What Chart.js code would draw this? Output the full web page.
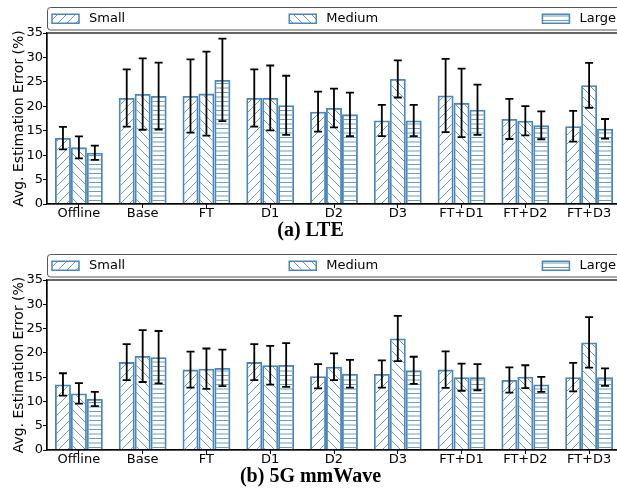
<!DOCTYPE html>
<html><head><meta charset="utf-8">
<script src="https://cdn.jsdelivr.net/npm/chart.js@4.4.0/dist/chart.umd.min.js"></script>
<style>
html,body{margin:0;padding:0;overflow:hidden;background:#fff;width:617px;height:493px;}
.wrap{position:absolute;left:0;width:640px;}
canvas{display:block;}
</style></head><body>
<div class="wrap" style="top:0;height:247px"><canvas id="c1" width="640" height="247"></canvas></div>
<div class="wrap" style="top:247px;height:246px"><canvas id="c2" width="640" height="246"></canvas></div>
<script>
const categories = ['Offline','Base','FT','D1','D2','D3','FT+D1','FT+D2','FT+D3'];
const seriesNames = ['Small','Medium','Large'];
const yMax = 35, yStep = 5;
const yTitle = 'Avg. Estimation Error (%)';
const titleLTE = '(a) LTE';
const title5G = '(b) 5G mmWave';

const lteSmall     = [13.5, 21.7, 22.1, 21.7, 18.9, 17.1, 22.2, 17.4, 15.9];
const lteSmallErr  = [2.3, 5.85, 7.5, 5.85, 4.1, 3.2, 7.5, 4.1, 3.15];
const lteMedium    = [11.6, 22.5, 22.6, 21.7, 19.65, 25.6, 20.7, 17.05, 24.3];
const lteMediumErr = [2.25, 7.3, 8.6, 6.65, 3.95, 3.8, 7.0, 3.0, 4.6];
const lteLarge     = [10.5, 22.1, 25.4, 20.2, 18.35, 17.1, 19.3, 16.1, 15.4];
const lteLargeErr  = [1.45, 6.85, 8.45, 6.05, 4.45, 3.2, 5.15, 2.85, 2.0];

const mmwSmall     = [13.5, 18.1, 16.55, 18.1, 15.2, 15.65, 16.55, 14.4, 15.0];
const mmwSmallErr  = [2.3, 3.7, 3.7, 3.7, 2.5, 2.8, 3.75, 2.6, 2.95];
const mmwMedium    = [11.65, 19.35, 16.75, 17.45, 17.15, 22.95, 15.0, 15.1, 22.15];
const mmwMediumErr = [2.1, 5.35, 4.15, 4.0, 2.75, 4.65, 2.8, 2.35, 5.2];
const mmwLarge     = [10.5, 19.1, 16.9, 17.5, 15.7, 16.4, 15.0, 13.5, 15.0];
const mmwLargeErr  = [1.45, 5.4, 3.75, 4.5, 2.85, 2.8, 2.7, 1.55, 1.8];

const EDGE = '#4a86b8';
const HATCH = 'rgba(70,130,180,0.8)';
const hatchKinds = ['ne','nw','h'];

function makePattern(kind){
  const c = document.createElement('canvas');
  c.width = 9; c.height = 9;
  const g = c.getContext('2d');
  g.strokeStyle = HATCH; g.lineWidth = 1;
  g.beginPath();
  if (kind === 'ne') {
    g.moveTo(-1,10); g.lineTo(10,-1);
    g.moveTo(-1,1); g.lineTo(1,-1);
    g.moveTo(8,10); g.lineTo(10,8);
  } else if (kind === 'nw') {
    g.moveTo(-1,-1); g.lineTo(10,10);
    g.moveTo(8,-1); g.lineTo(10,1);
    g.moveTo(-1,8); g.lineTo(1,10);
  } else {
    g.moveTo(0,2.5); g.lineTo(9,2.5);
    g.moveTo(0,7); g.lineTo(9,7);
  }
  g.stroke();
  return g.createPattern(c,'repeat');
}

Chart.defaults.font.family = 'DejaVu Sans';
Chart.defaults.color = '#000';

const errorBars = {
  id: 'errorBars',
  afterDatasetsDraw(chart){
    const ctx = chart.ctx, ys = chart.scales.y;
    ctx.save();
    ctx.strokeStyle = '#000'; ctx.lineWidth = 1.8;
    chart.data.datasets.forEach((ds, di) => {
      const meta = chart.getDatasetMeta(di);
      meta.data.forEach((bar, i) => {
        const v = ds.data[i], e = ds.errors[i];
        const x = bar.x, y1 = ys.getPixelForValue(v + e), y2 = ys.getPixelForValue(v - e);
        ctx.beginPath();
        ctx.moveTo(x, y1); ctx.lineTo(x, y2);
        ctx.moveTo(x - 4, y1); ctx.lineTo(x + 4, y1);
        ctx.moveTo(x - 4, y2); ctx.lineTo(x + 4, y2);
        ctx.stroke();
      });
    });
    ctx.restore();
  }
};

const frameAndLegend = {
  id: 'frameAndLegend',
  afterDraw(chart){
    const ctx = chart.ctx, a = chart.chartArea;
    ctx.save();
    ctx.strokeStyle = '#000'; ctx.lineWidth = 1.2;
    ctx.strokeRect(a.left, a.top, a.right - a.left, a.bottom - a.top);
    const bx = a.left, by = 7, bw = a.right - a.left, bh = 22.5;
    ctx.strokeStyle = '#555'; ctx.lineWidth = 1;
    ctx.beginPath();
    ctx.roundRect(bx + 0.5, by + 0.5, bw - 1, bh, 3);
    ctx.fillStyle = '#fff'; ctx.fill(); ctx.stroke();
    ctx.font = '13px "DejaVu Sans"';
    ctx.textBaseline = 'middle';
    const sw = 27, sh = 9, gap = 10, pad = 5;
    const items = chart.data.datasets.map(ds => ({ds, w: sw + gap + ctx.measureText(ds.label).width}));
    const total = items.reduce((s, it) => s + it.w, 0);
    const space = (bw - 2 * pad - total) / (items.length - 1);
    let x = bx + pad;
    const cy = by + bh / 2 + 0.5;
    items.forEach(it => {
      ctx.fillStyle = '#fff';
      ctx.fillRect(x, cy - sh / 2, sw, sh);
      ctx.fillStyle = it.ds.backgroundColor;
      ctx.fillRect(x, cy - sh / 2, sw, sh);
      ctx.strokeStyle = EDGE; ctx.lineWidth = 1.5;
      ctx.strokeRect(x, cy - sh / 2, sw, sh);
      ctx.fillStyle = '#000';
      ctx.fillText(it.ds.label, x + sw + gap, cy);
      x += it.w + space;
    });
    ctx.restore();
  }
};

function buildChart(id, title, vals, errs){
  const datasets = seriesNames.map((name, i) => ({
    label: name,
    data: vals[i],
    errors: errs[i],
    backgroundColor: makePattern(hatchKinds[i]),
    borderColor: EDGE,
    borderWidth: 1.8,
    categoryPercentage: 0.75,
    barPercentage: 1.0
  }));
  return new Chart(document.getElementById(id), {
    type: 'bar',
    data: { labels: categories, datasets },
    options: {
      responsive: false,
      animation: false,
      devicePixelRatio: 1,
      layout: { padding: { top: 33, right: 19, left: 0, bottom: 0 } },
      plugins: {
        legend: { display: false },
        tooltip: { enabled: false },
        title: {
          display: true, position: 'bottom', text: title, color: '#000',
          font: { family: 'Liberation Serif', weight: 'bold', size: 20, lineHeight: 1.2 },
          padding: { top: 0, bottom: 4 }
        }
      },
      scales: {
        x: {
          type: 'category', offset: true,
          grid: { offset: false, drawOnChartArea: false, tickLength: 4, color: '#000', tickWidth: 1 },
          border: { color: '#000', width: 1.2 },
          ticks: { color: '#000', font: { size: 13, lineHeight: 1 }, padding: -1, maxRotation: 0, autoSkip: false },
          afterFit: s => { s.height = 15; }
        },
        y: {
          min: 0, max: yMax,
          grid: { drawOnChartArea: false, tickLength: 4, color: '#000' },
          border: { color: '#000', width: 1.2 },
          ticks: { stepSize: yStep, color: '#000', font: { size: 13 }, padding: 0 },
          title: { display: true, text: yTitle, color: '#000', font: { size: 14 }, padding: { top: 11, bottom: 0 } },
          afterFit: s => { s.width = 47; }
        }
      }
    },
    plugins: [errorBars, frameAndLegend]
  });
}

buildChart('c1', titleLTE, [lteSmall, lteMedium, lteLarge], [lteSmallErr, lteMediumErr, lteLargeErr]);
buildChart('c2', title5G, [mmwSmall, mmwMedium, mmwLarge], [mmwSmallErr, mmwMediumErr, mmwLargeErr]);
</script>
</body></html>
